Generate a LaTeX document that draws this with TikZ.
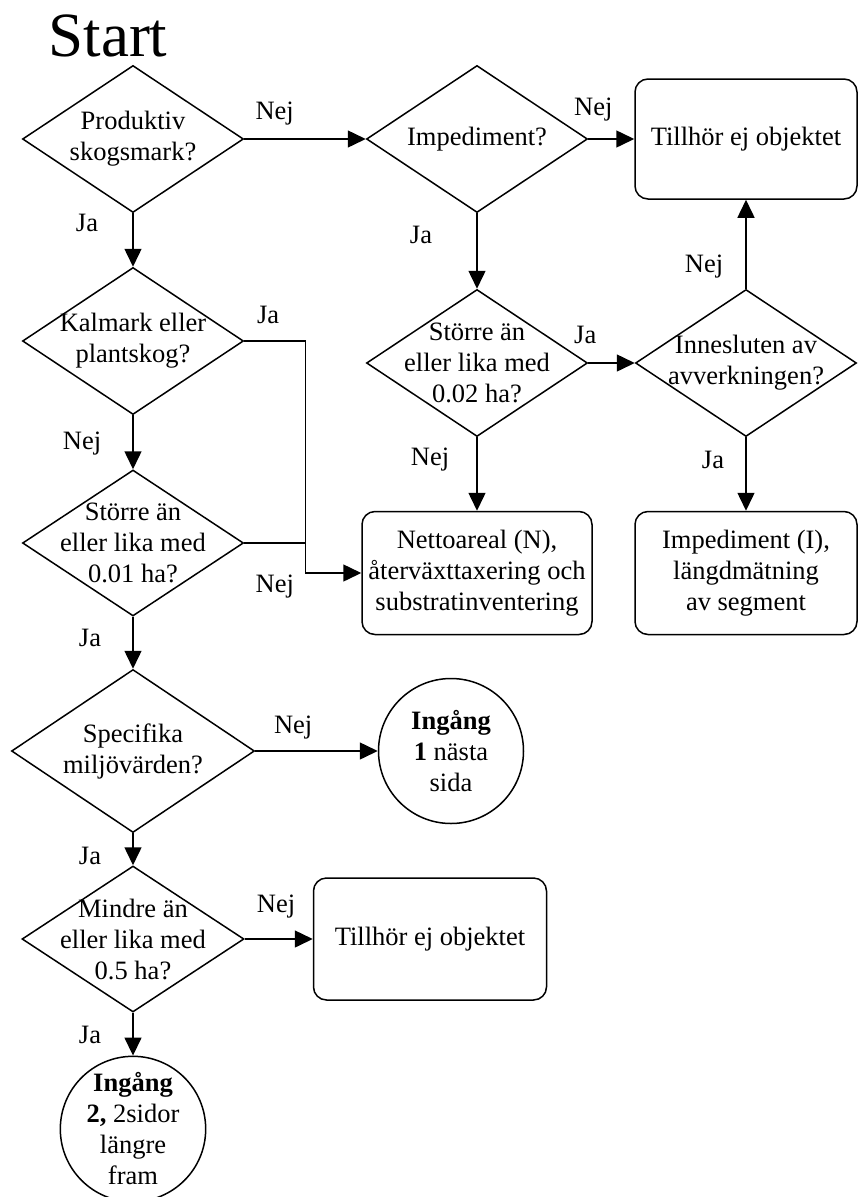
\documentclass[tikz,border=0pt]{standalone}
\usepackage{fontspec}
\setmainfont{Liberation Serif}
\usetikzlibrary{positioning,shapes.geometric,arrows.meta}

\begin{document}
\begin{tikzpicture}[x=1pt,y=1pt,on grid,line width=1.5pt,
	font=\fontsize{26.5pt}{31pt}\selectfont,
	>={Triangle[length=18pt,width=17pt]},
	dec/.style={diamond,draw,inner sep=0pt,minimum width=221pt,minimum height=147pt},
	qtext/.style={align=center,inner sep=0pt},
	box/.style={rectangle,draw,rounded corners=13pt,align=center,inner sep=2pt,minimum width=222pt,minimum height=120pt},
	ent/.style={circle,draw,align=center,inner sep=0pt,minimum size=145pt},
	lbl/.style={inner sep=0pt}]

	\useasboundingbox (0,0) rectangle (858,-1197);

	\node[font=\fontsize{63pt}{70pt}\selectfont] (start) at (108,-36) {Start};

	\node[dec,label={[qtext,name=t1]center:{Produktiv\\skogsmark?}}] (d1) at (133,-139) {};
	\node[dec,label={[qtext,name=t2]center:{Impediment?}}] (d2) [right=344pt of d1] {};
	\node[box] (b1) [right=269pt of d2] {Tillhör ej objektet};
	\node[dec,label={[qtext,name=t3]center:{Större än\\eller lika med\\0.02 ha?}}] (d3) [below=224pt of d2] {};
	\node[dec,label={[qtext,name=t4]center:{Innesluten av\\avverkningen?}}] (d4) [right=269pt of d3] {};
	\node[box,minimum width=230pt,minimum height=123pt] (b2) [below=210pt of d3] {Nettoareal (N),\\återväxttaxering och\\substratinventering};
	\node[box,minimum height=123pt] (b3) [below=210pt of d4] {Impediment (I),\\längdmätning\\av segment};

	\node[dec,label={[qtext,name=t5]center:{Kalmark eller\\plantskog?}}] (d5) [below=202pt of d1] {};
	\node[dec,minimum height=146pt,label={[qtext,name=t6]center:{Större än\\eller lika med\\0.01 ha?}}] (d6) [below=202pt of d5] {};
	\node[dec,minimum width=243pt,minimum height=163pt,label={[qtext,name=t7]center:{Specifika\\miljövärden?}}] (d7) [below=208pt of d6] {};
	\node[ent] (c1) [right=318pt of d7] {\textbf{Ingång}\\\textbf{1} nästa\\sida};
	\node[dec,minimum width=222pt,minimum height=146pt,label={[qtext,name=t8]center:{Mindre än\\eller lika med\\0.5 ha?}}] (d8) [below=188pt of d7] {};
	\node[box,minimum width=233pt,minimum height=122pt] (b4) [right=297pt of d8] {Tillhör ej objektet};
	\node[ent] (c2) [below=190pt of d8] {\textbf{Ingång}\\\textbf{2,} 2sidor\\längre\\fram};

	% upper part
	\draw[->] (d1) -- node[lbl,pos=.25,yshift=25pt] (l1) {Nej} (d2);
	\draw[->] (d2) -- node[lbl,pos=.11,yshift=29pt] (l2) {Nej} (b1);
	\draw[->] (d2) -- node[lbl,pos=.29,xshift=-56pt] (l4) {Ja} (d3);
	\draw[->] (d3) -- node[lbl,pos=0,xshift=-3pt,yshift=28pt] (l5) {Ja} (d4);
	\draw[->] (d4) -- node[lbl,pos=.25,xshift=-42pt] (l6) {Nej} (b1);
	\draw[->] (d3) -- node[lbl,pos=.31,xshift=-47pt] (l7) {Nej} (b2);
	\draw[->] (d4) -- node[lbl,pos=.31,xshift=-33pt] (l8) {Ja} (b3);

	% left column
	\draw[->] (d1) -- node[lbl,pos=.18,xshift=-46pt] (l3) {Ja} (d5);
	\coordinate (jn) at ([xshift=61pt]d5.east);
	\coordinate (jm) at (d6.east -| jn);
	\draw[->] (d5.east) -- node[lbl,pos=.39,yshift=26pt] (l9) {Ja} (jn) |- (b2.west);
	\draw (d6.east) -- node[lbl,pos=.5,yshift=-44pt] (l10) {Nej} (jm);
	\draw[->] (d5) -- node[lbl,pos=.52,xshift=-51pt] (l11) {Nej} (d6);
	\draw[->] (d6) -- node[lbl,pos=.41,xshift=-43pt] (l12) {Ja} (d7);
	\draw[->] (d7) -- node[lbl,pos=.31,yshift=23pt] (l13) {Nej} (c1);
	\draw[->] (d7) -- node[lbl,pos=.71,xshift=-43pt] (l14) {Ja} (d8);
	\draw[->] (d8) -- node[lbl,pos=.46,yshift=32pt] (l15) {Nej} (b4);
	\draw[->] (d8) -- node[lbl,pos=.51,xshift=-43pt] (l16) {Ja} (c2);
\end{tikzpicture}
\end{document}
